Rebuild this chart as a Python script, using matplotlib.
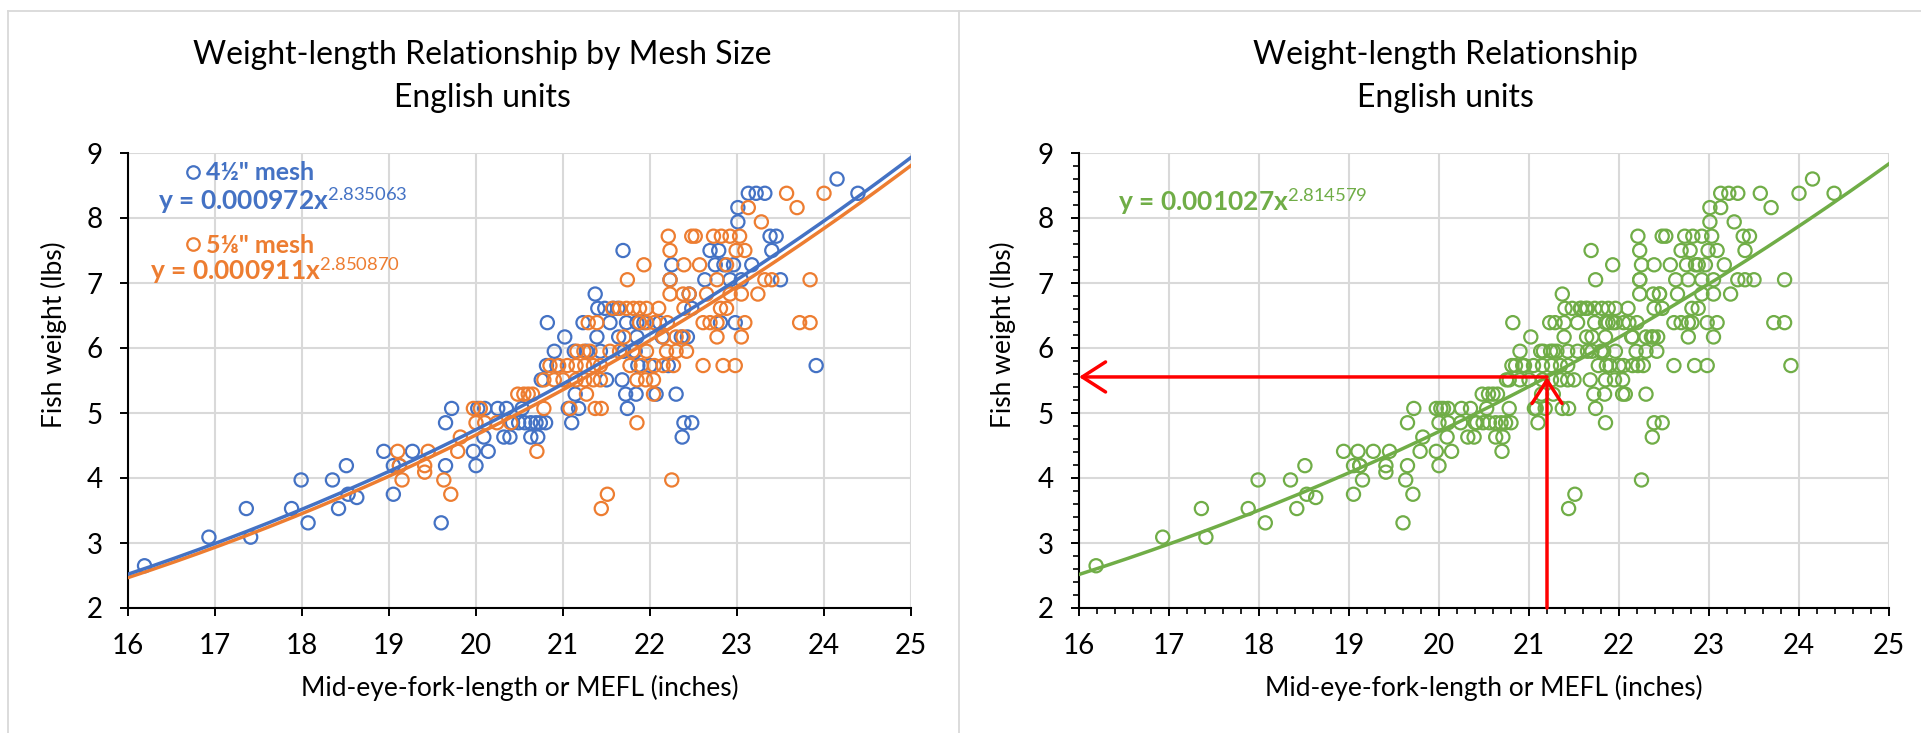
import numpy as np
import matplotlib.pyplot as plt
from matplotlib.ticker import MultipleLocator
from matplotlib.lines import Line2D

plt.rcParams['font.family'] = ['Lato', 'DejaVu Sans']
plt.rcParams['mathtext.fontset'] = 'custom'
plt.rcParams['mathtext.rm'] = 'Lato'
plt.rcParams['mathtext.it'] = 'Lato:italic'
plt.rcParams['mathtext.bf'] = 'Lato:bold'

# fish: (MEFL inches, weight lbs)
mesh45_pts = [
    (16.19, 2.65), (16.93, 3.09), (17.36, 3.53), (17.41, 3.09), (17.88, 3.53),
    (17.99, 3.97), (18.07, 3.31), (18.35, 3.97), (18.42, 3.53), (18.51, 4.19),
    (18.53, 3.75), (18.63, 3.70), (18.94, 4.41), (19.05, 3.75), (19.05, 4.19),
    (19.12, 4.19), (19.27, 4.41), (19.60, 3.31), (19.65, 4.19), (19.65, 4.85),
    (19.72, 5.07), (19.97, 4.41), (20.00, 4.19), (20.02, 5.07), (20.09, 4.63),
    (20.10, 5.07), (20.14, 4.41), (20.25, 5.07), (20.32, 4.63), (20.35, 5.07),
    (20.39, 4.63), (20.42, 4.85), (20.49, 4.85), (20.53, 5.07), (20.56, 4.85),
    (20.63, 4.85), (20.63, 4.63), (20.69, 4.85), (20.71, 4.63), (20.74, 4.85),
    (20.75, 5.51), (20.80, 4.85), (20.81, 5.73), (20.82, 6.39), (20.90, 5.95),
    (20.93, 5.73), (21.02, 6.17), (21.06, 5.07), (21.10, 4.85), (21.13, 5.95),
    (21.14, 5.29), (21.18, 5.07), (21.23, 6.39), (21.27, 5.95), (21.37, 6.83),
    (21.39, 6.17), (21.40, 6.61), (21.43, 5.95), (21.48, 6.61), (21.50, 5.51),
    (21.54, 6.39), (21.58, 6.61), (21.63, 6.61), (21.64, 6.17), (21.68, 5.51),
    (21.69, 7.50), (21.70, 5.95), (21.72, 5.29), (21.73, 6.39), (21.74, 5.07),
    (21.83, 5.95), (21.84, 5.29), (21.85, 6.39), (21.85, 6.17), (21.86, 5.73),
    (21.93, 6.39), (22.00, 5.73), (22.07, 5.29), (22.11, 6.39), (22.14, 6.17),
    (22.21, 5.73), (22.23, 7.05), (22.25, 7.28), (22.30, 5.29), (22.36, 6.17),
    (22.37, 4.63), (22.39, 4.85), (22.43, 6.17), (22.45, 6.83), (22.48, 6.61),
    (22.48, 4.85), (22.63, 7.05), (22.69, 7.50), (22.75, 7.28), (22.79, 7.50),
    (22.81, 6.39), (22.85, 7.28), (22.92, 7.05), (22.96, 7.28), (22.98, 6.39),
    (23.01, 7.94), (23.01, 8.16), (23.05, 7.05), (23.13, 8.38), (23.17, 7.28),
    (23.22, 8.38), (23.32, 8.38), (23.38, 7.72), (23.40, 7.50), (23.45, 7.72),
    (23.50, 7.05), (23.91, 5.73), (24.15, 8.60), (24.39, 8.38),
]
mesh518_pts = [
    (19.10, 4.41), (19.12, 4.19), (19.15, 3.97), (19.41, 4.19), (19.41, 4.09),
    (19.45, 4.41), (19.63, 3.97), (19.71, 3.75), (19.79, 4.41), (19.82, 4.63),
    (19.97, 5.07), (20.00, 4.85), (20.05, 5.07), (20.10, 4.85), (20.24, 4.85),
    (20.40, 4.85), (20.48, 5.29), (20.55, 5.29), (20.60, 5.29), (20.65, 5.29),
    (20.70, 4.41), (20.78, 5.07), (20.78, 5.51), (20.85, 5.73), (20.90, 5.51),
    (20.95, 5.73), (21.00, 5.51), (21.05, 5.73), (21.08, 5.07), (21.15, 5.51),
    (21.15, 5.73), (21.16, 5.95), (21.24, 5.95), (21.25, 5.51), (21.25, 5.73),
    (21.27, 5.29), (21.29, 6.39), (21.31, 5.95), (21.35, 5.51), (21.35, 5.73),
    (21.37, 5.07), (21.39, 6.39), (21.43, 5.51), (21.43, 5.73), (21.44, 5.07),
    (21.44, 3.53), (21.51, 3.75), (21.54, 5.95), (21.57, 6.61), (21.65, 5.95),
    (21.65, 6.61), (21.70, 6.17), (21.73, 6.61), (21.74, 7.05), (21.77, 5.73),
    (21.80, 5.95), (21.81, 6.61), (21.85, 4.85), (21.85, 5.51), (21.88, 6.61),
    (21.88, 6.39), (21.90, 5.73), (21.93, 7.28), (21.95, 5.51), (21.96, 6.61),
    (21.96, 6.39), (21.96, 5.95), (22.04, 5.51), (22.04, 5.29), (22.05, 6.39),
    (22.05, 5.73), (22.10, 6.61), (22.15, 5.73), (22.15, 6.17), (22.19, 5.95),
    (22.20, 6.39), (22.21, 7.72), (22.23, 7.50), (22.23, 7.05), (22.23, 6.83),
    (22.25, 3.97), (22.27, 5.73), (22.30, 6.17), (22.30, 5.95), (22.38, 6.83),
    (22.38, 6.17), (22.39, 7.28), (22.39, 6.61), (22.42, 5.95), (22.45, 6.83),
    (22.48, 7.72), (22.52, 7.72), (22.57, 7.28), (22.61, 6.39), (22.61, 5.73),
    (22.65, 6.83), (22.69, 6.39), (22.73, 7.72), (22.77, 7.05), (22.77, 6.39),
    (22.77, 6.17), (22.81, 6.61), (22.82, 7.72), (22.84, 5.73), (22.88, 7.28),
    (22.88, 6.61), (22.92, 7.72), (22.92, 6.83), (22.98, 5.73), (22.99, 7.50),
    (23.03, 7.72), (23.05, 6.83), (23.05, 6.17), (23.09, 7.50), (23.09, 6.39),
    (23.13, 8.16), (23.24, 6.83), (23.28, 7.94), (23.32, 7.05), (23.40, 7.05),
    (23.57, 8.38), (23.69, 8.16), (23.72, 6.39), (23.84, 7.05), (23.84, 6.39),
    (24.00, 8.38),
]

# power trendlines as printed on the chart: y = a * x^b
fit_45 = (0.000972, 2.835063)
fit_518 = (0.000911, 2.850870)
fit_all = (0.001027, 2.814579)

lookup_len = 21.2  # red arrows on right chart

BLUE = '#4472C4'
ORANGE = '#ED7D31'
GREEN = '#70AD47'
GRID = '#D9D9D9'

b = np.array(mesh45_pts)
o = np.array(mesh518_pts)
allpts = np.vstack([b, o])

W, H = 1921, 733
fig = plt.figure(figsize=(W / 100, H / 100), dpi=100)

ax1 = fig.add_axes([128 / W, (H - 608) / H, (911 - 128) / W, (608 - 153) / H])
ax2 = fig.add_axes([1079 / W, (H - 608) / H, (1889 - 1079) / W, (608 - 153) / H])


def style(ax, minor=False):
    ax.set_xlim(16, 25)
    ax.set_ylim(2, 9)
    ax.set_xticks(range(16, 26))
    ax.set_yticks(range(2, 10))
    ax.grid(True, color=GRID, lw=1.5)
    ax.set_axisbelow(True)
    for s in ['top', 'right']:
        ax.spines[s].set_visible(False)
    for s in ['left', 'bottom']:
        ax.spines[s].set_linewidth(1.5)
    ax.tick_params(direction='out', length=6, width=1.4, labelsize=20, pad=12)
    if minor:
        ax.xaxis.set_minor_locator(MultipleLocator(0.2))
        ax.yaxis.set_minor_locator(MultipleLocator(0.2))
        ax.tick_params(which='minor', direction='out', length=4, width=1.2)
    ax.set_xlabel('Mid-eye-fork-length or MEFL (inches)', fontsize=19)
    ax.xaxis.set_label_coords(0.5, -0.148)
    ax.set_ylabel('Fish weight (lbs)', fontsize=19)
    ax.yaxis.set_label_coords(-0.078, 0.6)


style(ax1)
style(ax2, minor=True)

xs = np.linspace(16, 25, 200)

# left chart: by mesh size
ax1.scatter(b[:, 0], b[:, 1], s=90, facecolors='none', edgecolors=BLUE, linewidths=1.6, zorder=3)
ax1.scatter(o[:, 0], o[:, 1], s=90, facecolors='none', edgecolors=ORANGE, linewidths=1.6, zorder=3)
ax1.plot(xs, fit_518[0] * xs ** fit_518[1], color=ORANGE, lw=2.5, zorder=4)
ax1.plot(xs, fit_45[0] * xs ** fit_45[1], color=BLUE, lw=2.5, zorder=4)

ax1.plot(16.75, 8.71, 'o', ms=9, mfc='none', mec=BLUE, mew=1.6, zorder=5)
ax1.text(16.90, 8.58, '4½" mesh', color=BLUE, fontsize=18, fontweight='bold')
ax1.text(16.34, 8.12, 'y = 0.000972x$^{2.835063}$', color=BLUE, fontsize=19, fontweight='bold')
ax1.plot(16.75, 7.60, 'o', ms=9, mfc='none', mec=ORANGE, mew=1.6, zorder=5)
ax1.text(16.90, 7.46, '5⅛" mesh', color=ORANGE, fontsize=18, fontweight='bold')
ax1.text(16.25, 7.05, 'y = 0.000911x$^{2.850870}$', color=ORANGE, fontsize=19, fontweight='bold')

# right chart: all fish
ax2.scatter(allpts[:, 0], allpts[:, 1], s=90, facecolors='none', edgecolors=GREEN, linewidths=1.6, zorder=3)
ax2.plot(xs, fit_all[0] * xs ** fit_all[1], color=GREEN, lw=2.5, zorder=4)
ax2.text(16.43, 8.11, 'y = 0.001027x$^{2.814579}$', color=GREEN, fontsize=19, fontweight='bold')

w_read = fit_all[0] * lookup_len ** fit_all[1]
arrow = dict(arrowstyle='->,head_length=0.7,head_width=0.45', color='red', lw=2.5,
             shrinkA=0, shrinkB=0, mutation_scale=24)
ax2.annotate('', xy=(lookup_len, w_read), xytext=(lookup_len, 2), arrowprops=arrow, zorder=6)
ax2.annotate('', xy=(16, w_read), xytext=(lookup_len, w_read), arrowprops=arrow, zorder=6)

# titles centred on each chart panel
fig.text(482 / W, 1 - 55 / H, 'Weight-length Relationship by Mesh Size', ha='center', va='center', fontsize=23)
fig.text(482 / W, 1 - 98 / H, 'English units', ha='center', va='center', fontsize=23)
fig.text(1445 / W, 1 - 55 / H, 'Weight-length Relationship', ha='center', va='center', fontsize=23)
fig.text(1445 / W, 1 - 98 / H, 'English units', ha='center', va='center', fontsize=23)

# panel borders
fig.add_artist(Line2D([8 / W, 1], [1 - 11 / H, 1 - 11 / H], color=GRID, lw=1.3))
fig.add_artist(Line2D([8 / W, 8 / W], [0, 1 - 11 / H], color=GRID, lw=1.3))
fig.add_artist(Line2D([959 / W, 959 / W], [0, 1 - 11 / H], color=GRID, lw=1.3))

fig.savefig('out.png', dpi=100)
